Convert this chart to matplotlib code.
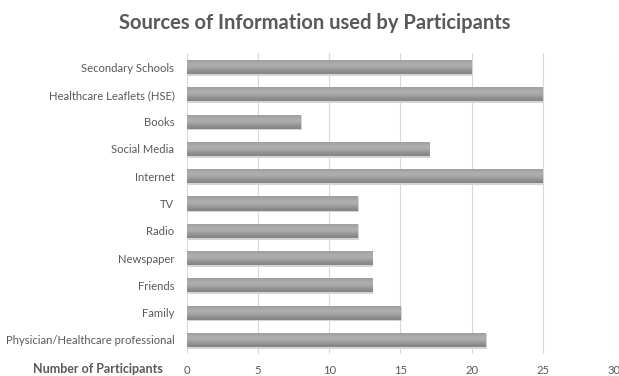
import numpy as np
import matplotlib
matplotlib.use('Agg')
import matplotlib.pyplot as plt

categories = ['Physician/Healthcare professional', 'Family', 'Friends', 'Newspaper',
              'Radio', 'TV', 'Internet', 'Social Media', 'Books',
              'Healthcare Leaflets (HSE)', 'Secondary Schools']
counts = [21, 15, 13, 13, 12, 12, 25, 17, 8, 25, 20]
xticks = [0, 5, 10, 15, 20, 25, 30]

plt.rcParams['font.family'] = ['Lato', 'DejaVu Sans']

fig = plt.figure(figsize=(6.19, 3.76), dpi=100)
ax = fig.add_axes([0.302, 0.0596, 0.690, 0.7984])

y = np.arange(len(categories))
bars = ax.barh(y, counts, height=0.52, color='#a3a3a3', zorder=2)

# gradient shading + soft shadow for each bar
grad = np.array([[0.62], [0.70], [0.64], [0.52]])
for b in bars:
    x0, y0 = b.get_x(), b.get_y()
    w, h = b.get_width(), b.get_height()
    sh = plt.Rectangle((x0 + 0.08, y0 - 0.06), w, h, color='#d4d4d4', zorder=1, lw=0)
    ax.add_patch(sh)
    im = ax.imshow(grad, cmap='gray', vmin=0, vmax=1, aspect='auto',
                   extent=(x0, x0 + w, y0, y0 + h), zorder=3, interpolation='bicubic')
    im.set_clip_path(b)

ax.set_xlim(0, 30)
ax.set_ylim(-0.5, len(categories) - 0.5)
ax.set_xticks(xticks)
ax.set_yticks(y)
ax.set_yticklabels(categories)
ax.xaxis.grid(True, color='#d9d9d9', linewidth=0.8, zorder=0)
ax.set_axisbelow(True)
for s in ax.spines.values():
    s.set_visible(False)
ax.tick_params(length=0, labelsize=8.1, colors='#595959', pad=9)
ax.tick_params(axis='x', pad=8)

fig.text(0.509, 0.94, 'Sources of Information used by Participants', ha='center',
         va='center', fontsize=14.5, fontweight='bold', color='#595959')
fig.text(0.053, 0.018, 'Number of Participants', ha='left', va='center',
         fontsize=9, fontweight='bold', color='#595959')

fig.savefig('out.png', dpi=100)
